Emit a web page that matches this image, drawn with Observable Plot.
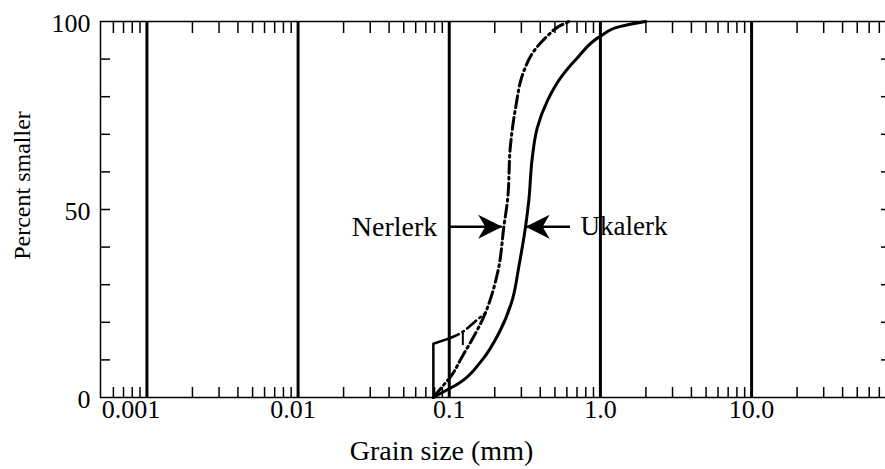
<!DOCTYPE html>
<html>
<head>
<meta charset="utf-8">
<script src="https://cdn.jsdelivr.net/npm/d3@7"></script>
<script src="https://cdn.jsdelivr.net/npm/@observablehq/plot@0.6"></script>
<style>
  html, body { margin: 0; padding: 0; background: white; overflow: hidden; }
</style>
</head>
<body>
<script>
// ---- data ----
const ukalerkSize = [0.0785, 0.0945, 0.1152, 0.1653, 0.2129, 0.2611, 0.2886, 0.3196, 0.3362, 0.354, 0.3821, 0.4449, 0.5448, 0.7026, 1.002, 1.359, 1.989];
const ukalerkPct  = [0, 1.8, 3.7, 10.0, 17.1, 25.9, 34.8, 45.4, 52.5, 63.7, 71.7, 78.8, 85.0, 90.3, 96.1, 98.7, 100];

const nerlerkSize = [0.0785, 0.0895, 0.102, 0.1219, 0.1493, 0.1694, 0.1925, 0.2129, 0.2297, 0.243, 0.2543, 0.2746, 0.3115, 0.3627, 0.4449, 0.5309, 0.6183];
const nerlerkPct  = [0, 2.8, 5.5, 10.9, 17.1, 21.5, 27.7, 34.8, 45.4, 52.5, 67.2, 77.0, 86.8, 92.1, 96.1, 98.7, 100];

// upper edge of the Nerlerk band at the fine end
const nerlerkUpperSolidSize = [0.0785, 0.0785, 0.098];
const nerlerkUpperSolidPct  = [0, 14.3, 15.6];
const nerlerkUpperDashSize  = [0.098, 0.12, 0.149, 0.17];
const nerlerkUpperDashPct   = [15.6, 17.2, 20.3, 22.2];
const nerlerkBarSize = 0.123;
const nerlerkBarPct  = [13.8, 17.1];

const decadeTicks  = [0.001, 0.01, 0.1, 1, 10];
const decadeLabels = ["0.001", "0.01", "0.1", "1.0", "10.0"];
const yTickValues  = [0, 50, 100];
const yMinorTicks  = [10, 20, 30, 40, 50, 60, 70, 80, 90];

const seriesNames = ["Nerlerk", "Ukalerk"];
const arrowPct  = 45.4;
const arrowFrom = [0.1, 0.634];
const arrowTo   = [0.224, 0.32];

const xTitle = "Grain size (mm)";
const yTitle = "Percent smaller";

// ---- build ----
const zip = (xs, ys) => xs.map((x, i) => ({x, y: ys[i]}));
const ukalerk = zip(ukalerkSize, ukalerkPct);
const nerlerk = zip(nerlerkSize, nerlerkPct);
const nerUpSolid = zip(nerlerkUpperSolidSize, nerlerkUpperSolidPct);
const nerUpDash = zip(nerlerkUpperDashSize, nerlerkUpperDashPct);

const minorTicks = [];
for (const base of [1e-4, 1e-3, 1e-2, 1e-1, 1, 10]) {
  for (let m = 2; m <= 9; m++) {
    const v = base * m;
    if (v > 0.00055 && v < 82) minorTicks.push(v);
  }
}

const headRight = {draw(ctx) { ctx.moveTo(0, 0); ctx.lineTo(-24, -12); ctx.lineTo(-17, 0); ctx.lineTo(-24, 12); ctx.closePath(); }};
const headLeft  = {draw(ctx) { ctx.moveTo(0, 0); ctx.lineTo(24, -12); ctx.lineTo(17, 0); ctx.lineTo(24, 12); ctx.closePath(); }};

const labelShift = [-16, -5, 0, 0, 0];
const dashDot = "12,4,2,4";

const chart = Plot.plot({
  width: 895,
  height: 469,
  marginLeft: 100,
  marginRight: 5,
  marginTop: 21,
  marginBottom: 72,
  x: {type: "log", domain: [0.000493, 83]},
  y: {domain: [0, 100]},
  style: {fontFamily: "'Liberation Serif', serif", fontSize: "26px", background: "white", color: "black", maxWidth: "none", overflow: "hidden"},
  marks: [
    Plot.frame({strokeWidth: 1.5}),
    Plot.ruleX(decadeTicks, {x: d => d, strokeWidth: 3}),
    Plot.axisX({anchor: "bottom", ticks: minorTicks, tickSize: -10, tickFormat: () => "", label: null, strokeWidth: 1.5}),
    Plot.axisX({anchor: "top", ticks: minorTicks, tickSize: -11, tickFormat: () => "", label: null, strokeWidth: 1.5}),
    Plot.axisY({anchor: "left", ticks: yMinorTicks, tickSize: -10, tickFormat: () => "", label: null, strokeWidth: 1.5}),
    Plot.axisY({anchor: "right", ticks: yMinorTicks, tickSize: -10, tickFormat: () => "", label: null, strokeWidth: 1.5}),
    // curves
    Plot.line(ukalerk, {x: "x", y: "y", curve: "monotone-y", strokeWidth: 3}),
    Plot.line(nerlerk, {x: "x", y: "y", curve: "monotone-y", strokeWidth: 3, strokeDasharray: dashDot}),
    Plot.line(nerUpSolid, {x: "x", y: "y", strokeWidth: 2.5}),
    Plot.line(nerUpDash, {x: "x", y: "y", curve: "monotone-x", strokeWidth: 2.5, strokeDasharray: dashDot}),
    Plot.ruleX([nerlerkBarSize], {x: d => d, y1: nerlerkBarPct[0], y2: nerlerkBarPct[1], strokeWidth: 2}),
    // arrows
    Plot.ruleY([0, 1], {y: () => arrowPct, x1: i => arrowFrom[i], x2: i => arrowTo[i], strokeWidth: 2.5}),
    Plot.dot([0], {x: () => arrowTo[0], y: () => arrowPct, symbol: headRight, fill: "black", stroke: "none", r: 5}),
    Plot.dot([1], {x: () => arrowTo[1], y: () => arrowPct, symbol: headLeft, fill: "black", stroke: "none", r: 5}),
    Plot.text([seriesNames[0]], {x: () => arrowFrom[0], y: () => arrowPct, text: d => d, textAnchor: "end", dx: -12, fontSize: 28}),
    Plot.text([seriesNames[1]], {x: () => arrowFrom[1], y: () => arrowPct, text: d => d, textAnchor: "start", dx: 10, fontSize: 27}),
    // tick labels
    ...decadeTicks.map((v, i) => Plot.text([decadeLabels[i]], {x: () => v, frameAnchor: "bottom", text: d => d, dy: 20, dx: labelShift[i], fontSize: 26})),
    Plot.text(yTickValues, {y: d => d, frameAnchor: "left", text: d => String(d), textAnchor: "end", dx: -10, dy: 2, fontSize: 26}),
    // titles
    Plot.text([xTitle], {frameAnchor: "bottom", text: d => d, textAnchor: "middle", dx: -54, dy: 62, fontSize: 28}),
    Plot.text([yTitle], {frameAnchor: "left", text: d => d, textAnchor: "middle", rotate: -90, dx: -78, dy: -24, fontSize: 24})
  ]
});
document.body.appendChild(chart);
</script>
</body>
</html>
